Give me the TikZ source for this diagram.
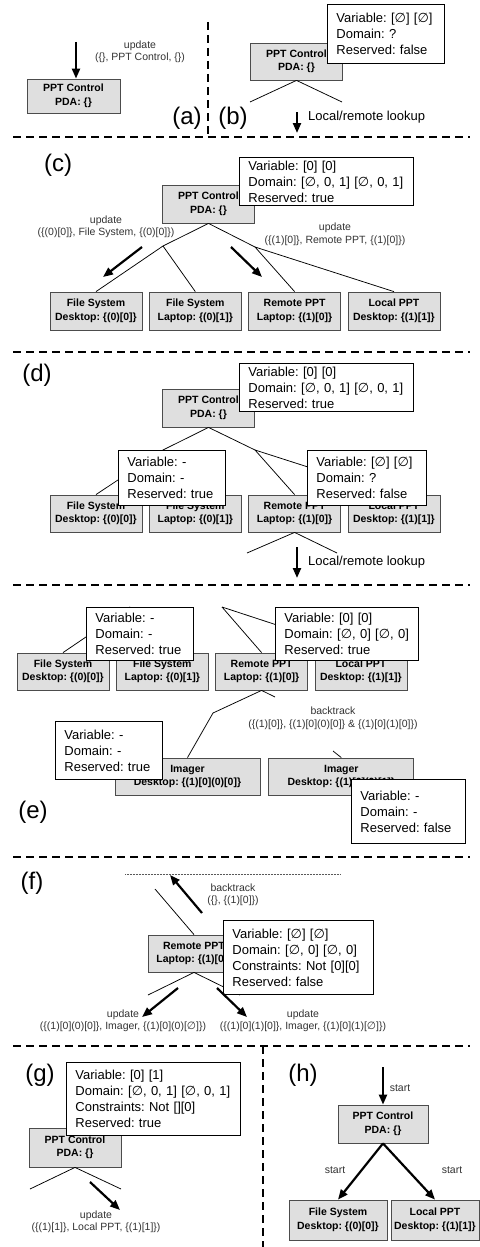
\documentclass[tikz,border=0pt]{standalone}
\usepackage{fontspec}
\setmainfont{Liberation Sans}
\newfontfamily\esfont{DejaVu Sans}
\usetikzlibrary{arrows.meta,positioning}
\frenchspacing

\newcommand{\emptyvar}{{\esfont ∅}}

\tikzstyle{rec} = [rectangle, fill = gray!25, draw = gray!60!black, line width = 0.8pt, minimum width = 92pt, minimum height = 37pt, inner sep = 0pt, text centered, align = center, font = \bfseries\fontsize{10.5}{13.5}\selectfont]
\tikzstyle{rec1} = [rec, minimum width = 145pt]
\tikzstyle{note} = [rectangle, fill = white, draw = black, line width = 0.8pt, anchor = north west, align = left, inner xsep = 9pt, inner ysep = 0pt, font = \fontsize{13}{16}\selectfont]
\tikzstyle{arrow} = [line width = 2.2pt, -{Triangle[length = 10pt, width = 8pt]}]
\tikzstyle{line} = [line width = 0.75pt, -, draw = black]
\tikzstyle{divider} = [line width = 2.6pt, dash pattern = on 8pt off 5pt]
\tikzstyle{dots} = [line width = 0.5pt, densely dotted, draw = gray!70!black]
\tikzstyle{lab} = [align = center, text = black!80, inner sep = 0pt, font = \fontsize{10.5}{12.5}\selectfont]
\tikzstyle{txt} = [inner sep = 0pt, font = \fontsize{13}{16}\selectfont]
\tikzstyle{tag} = [inner sep = 0pt, font = \fontsize{24}{28}\selectfont]

\begin{document}
\begin{tikzpicture}[x = 1pt, y = -1pt]
    \useasboundingbox (0, 0) rectangle (479, 1247);
    \draw[divider] (208, 22) -- (208, 137);
    \draw[divider] (13, 137) -- (470, 137);
    \draw[divider] (13, 352) -- (470, 352);
    \draw[divider] (13, 585) -- (470, 585);
    \draw[divider] (13, 857) -- (470, 857);
    \draw[divider] (13, 1046) -- (470, 1046);
    \draw[divider] (263, 1046) -- (263, 1247);

    \node(ctrl_a)[rec, minimum width = 93pt, minimum height = 34pt] at (73.5, 96) {PPT Control\\PDA: \{\}};
    \coordinate(in_a) at (76, 42);
    \draw[arrow] (in_a) -- (in_a |- ctrl_a.north);
    \node(upd_a)[lab] at (140, 52) {update\\(\{\}, PPT Control, \{\})};
    \node(tag_a)[tag] at (187, 118) {(a)};

    \node(ctrl_b)[rec] at (296.5, 61.5) {PPT Control\\PDA: \{\}};
    \coordinate(bl_b) at (250, 102);
    \coordinate(br_b) at (342, 102);
    \draw[line] (ctrl_b.south) -- (bl_b);
    \draw[line] (ctrl_b.south) -- (br_b);
    \node(note_b)[note, text width = 99pt, minimum height = 59pt] at (327, 4) {Variable: [\emptyvar] [\emptyvar]\\Domain: ?\\Reserved: false};
    \coordinate(look_b) at (297, 112);
    \coordinate(look_b1) at (297, 133);
    \draw[arrow] (look_b) -- (look_b1) node[txt, pos = 0.25, anchor = west, xshift = 10pt] {Local/remote lookup};
    \node(tag_b)[tag] at (233, 118) {(b)};

    \node(tag_c)[tag] at (58, 165) {(c)};
    \node(ctrl_c)[rec, minimum height = 38pt] at (208.5, 204) {PPT Control\\PDA: \{\}};
    \node(fsd_c)[rec, minimum height = 38pt] at (96, 311) {File System\\Desktop: \{(0)[0]\}};
    \node(fsl_c)[rec, minimum height = 38pt, right = 6.5pt of fsd_c] {File System\\Laptop: \{(0)[1]\}};
    \node(rem_c)[rec, minimum height = 38pt, right = 6.5pt of fsl_c] {Remote PPT\\Laptop: \{(1)[0]\}};
    \node(loc_c)[rec, minimum height = 38pt, right = 6.5pt of rem_c] {Local PPT\\Desktop: \{(1)[1]\}};
    \coordinate(jl_c) at (163, 246);
    \coordinate(jr_c) at (255, 247);
    \draw[line] (ctrl_c.south) -- (jl_c) -- (fsd_c.north);
    \draw[line] (jl_c) -- (fsl_c.north);
    \draw[line] (ctrl_c.south) -- (jr_c) -- (rem_c.north);
    \draw[line] (jr_c) -- (loc_c.north);
    \node(note_c)[note, text width = 156pt, minimum height = 48pt] at (239, 157) {Variable: [0] [0]\\Domain: [\emptyvar, 0, 1] [\emptyvar, 0, 1]\\Reserved: true};
    \coordinate(al_c) at (142, 247);
    \coordinate(al_c1) at (103, 277);
    \coordinate(ar_c) at (231, 247);
    \coordinate(ar_c1) at (262, 277);
    \draw[arrow] (al_c) -- (al_c1);
    \draw[arrow] (ar_c) -- (ar_c1);
    \node(upd_c1)[lab] at (106, 227) {update\\(\{(0)[0]\}, File System, \{(0)[0]\})};
    \node(upd_c2)[lab] at (335, 234.5) {update\\(\{(1)[0]\}, Remote PPT, \{(1)[0]\})};

    \node(tag_d)[tag] at (37, 375) {(d)};
    \node(ctrl_d)[rec, minimum height = 38pt] at (208.5, 408) {PPT Control\\PDA: \{\}};
    \node(fsd_d)[rec] at (96, 513.5) {File System\\Desktop: \{(0)[0]\}};
    \node(fsl_d)[rec, right = 6.5pt of fsd_d] {File System\\Laptop: \{(0)[1]\}};
    \node(rem_d)[rec, right = 6.5pt of fsl_d] {Remote PPT\\Laptop: \{(1)[0]\}};
    \node(loc_d)[rec, right = 6.5pt of rem_d] {Local PPT\\Desktop: \{(1)[1]\}};
    \coordinate(jl_d) at (163, 450);
    \coordinate(jr_d) at (255, 450);
    \draw[line] (ctrl_d.south) -- (jl_d) -- (fsd_d.north);
    \draw[line] (jl_d) -- (fsl_d.north);
    \draw[line] (ctrl_d.south) -- (jr_d) -- (rem_d.north);
    \draw[line] (jr_d) -- (loc_d.north);
    \node(note_d)[note, text width = 156pt, minimum height = 48pt] at (239, 363) {Variable: [0] [0]\\Domain: [\emptyvar, 0, 1] [\emptyvar, 0, 1]\\Reserved: true};
    \node(note_d1)[note, text width = 89pt, minimum height = 55pt] at (118, 450) {Variable: -\\Domain: -\\Reserved: true};
    \node(note_d2)[note, text width = 101pt, minimum height = 55pt] at (307, 450) {Variable: [\emptyvar] [\emptyvar]\\Domain: ?\\Reserved: false};
    \coordinate(bl_d) at (247, 553);
    \coordinate(br_d) at (337, 553);
    \draw[line] (rem_d.south) -- (bl_d);
    \draw[line] (rem_d.south) -- (br_d);
    \coordinate(look_d) at (297, 547);
    \coordinate(look_d1) at (297, 578);
    \draw[arrow] (look_d) -- (look_d1) node[txt, midway, anchor = west, xshift = 10pt] {Local/remote lookup};

    \node(fsd_e)[rec] at (63, 671.5) {File System\\Desktop: \{(0)[0]\}};
    \node(fsl_e)[rec, right = 6.5pt of fsd_e] {File System\\Laptop: \{(0)[1]\}};
    \node(rem_e)[rec, right = 6.5pt of fsl_e] {Remote PPT\\Laptop: \{(1)[0]\}};
    \node(loc_e)[rec, right = 6.5pt of rem_e] {Local PPT\\Desktop: \{(1)[1]\}};
    \coordinate(jl_e) at (130, 607);
    \coordinate(jr_e) at (222, 607);
    \draw[line] (jl_e) -- (fsd_e.north);
    \draw[line] (jl_e) -- (fsl_e.north);
    \draw[line] (jr_e) -- (rem_e.north);
    \draw[line] (jr_e) -- (loc_e.north);
    \node(note_e1)[note, text width = 89pt, minimum height = 53pt] at (86, 607) {Variable: -\\Domain: -\\Reserved: true};
    \node(note_e2)[note, text width = 125pt, minimum height = 53pt] at (275, 607) {Variable: [0] [0]\\Domain: [\emptyvar, 0] [\emptyvar, 0]\\Reserved: true};
    \node(img_e1)[rec1] at (187.5, 776.5) {Imager\\Desktop: \{(1)[0](0)[0]\}};
    \node(img_e2)[rec1, right = 8pt of img_e1] {Imager\\Desktop: \{(1)[0](0)[1]\}};
    \coordinate(jm_e) at (213, 713);
    \coordinate(cut_e) at (275, 697);
    \coordinate(cut_e1) at (333, 751);
    \draw[line] (rem_e.south) -- (jm_e) -- (img_e1.north);
    \draw[line] (rem_e.south) -- (cut_e);
    \draw[line] (cut_e1) -- (img_e2.north);
    \node(back_e)[lab] at (333, 718.5) {backtrack\\(\{(1)[0]\}, \{(1)[0](0)[0]\} \& \{(1)[0](1)[0]\})};
    \node(note_e3)[note, text width = 89pt, minimum height = 58pt] at (55, 721) {Variable: -\\Domain: -\\Reserved: true};
    \node(note_e4)[note, text width = 96pt, minimum height = 64pt] at (351, 779) {Variable: -\\Domain: -\\Reserved: false};
    \node(tag_e)[tag] at (33, 812) {(e)};

    \node(tag_f)[tag] at (32, 883) {(f)};
    \coordinate(dl_f) at (125, 874);
    \coordinate(dr_f) at (340, 874);
    \draw[dots] (dl_f) -- (dr_f);
    \node(rem_f)[rec] at (194, 953.5) {Remote PPT\\Laptop: \{(1)[0]\}};
    \coordinate(up_f) at (155, 889);
    \draw[line] (up_f) -- (rem_f.north);
    \coordinate(bt_f) at (202, 913);
    \coordinate(bt_f1) at (170, 875);
    \draw[arrow] (bt_f) -- (bt_f1);
    \node(back_f)[lab] at (233, 895) {backtrack\\(\{\}, \{(1)[0]\})};
    \coordinate(bl_f) at (148, 995);
    \coordinate(br_f) at (240, 995);
    \draw[line] (rem_f.south) -- (bl_f);
    \draw[line] (rem_f.south) -- (br_f);
    \node(note_f)[note, text width = 132pt, minimum height = 74pt] at (223, 920) {Variable: [\emptyvar] [\emptyvar]\\Domain: [\emptyvar, 0] [\emptyvar, 0]\\Constraints: Not [0][0]\\Reserved: false};
    \coordinate(al_f) at (178, 988);
    \coordinate(al_f1) at (142, 1017);
    \coordinate(ar_f) at (217, 988);
    \coordinate(ar_f1) at (247, 1017);
    \draw[arrow] (al_f) -- (al_f1);
    \draw[arrow] (ar_f) -- (ar_f1);
    \node(upd_f1)[lab] at (123, 1021) {update\\(\{(1)[0](0)[0]\}, Imager, \{(1)[0](0)[\emptyvar]\})};
    \node(upd_f2)[lab] at (303, 1021) {update\\(\{(1)[0](1)[0]\}, Imager, \{(1)[0](1)[\emptyvar]\})};

    \node(tag_g)[tag] at (40, 1075) {(g)};
    \node(ctrl_g)[rec, minimum height = 39pt] at (75, 1147.5) {PPT Control\\PDA: \{\}};
    \coordinate(bl_g) at (30, 1189);
    \coordinate(br_g) at (121, 1189);
    \draw[line] (ctrl_g.south) -- (bl_g);
    \draw[line] (ctrl_g.south) -- (br_g);
    \node(note_g)[note, text width = 156pt, minimum height = 73pt] at (66, 1062) {Variable: [0] [1]\\Domain: [\emptyvar, 0, 1] [\emptyvar, 0, 1]\\Constraints: Not [][0]\\Reserved: true};
    \coordinate(a_g) at (90, 1182);
    \coordinate(a_g1) at (120, 1210);
    \draw[arrow] (a_g) -- (a_g1);
    \node(upd_g)[lab] at (96, 1222) {update\\(\{(1)[1]\}, Local PPT, \{(1)[1]\})};

    \node(tag_h)[tag] at (303, 1075) {(h)};
    \node(ctrl_h)[rec, minimum width = 90pt, minimum height = 38pt] at (383, 1124) {PPT Control\\PDA: \{\}};
    \node(fsd_h)[rec, minimum width = 98pt, minimum height = 40pt] at (338, 1220) {File System\\Desktop: \{(0)[0]\}};
    \node(loc_h)[rec, minimum width = 88pt, minimum height = 40pt] at (435, 1220) {Local PPT\\Desktop: \{(1)[1]\}};
    \coordinate(in_h) at (383, 1067);
    \draw[arrow] (in_h) -- (ctrl_h.north);
    \draw[arrow] (ctrl_h.south) -- (fsd_h.north);
    \draw[arrow] (ctrl_h.south) -- (loc_h.north);
    \node(st_h)[lab] at (400, 1088) {start};
    \node(st_h1)[lab] at (335, 1170) {start};
    \node(st_h2)[lab] at (452, 1170) {start};
\end{tikzpicture}
\end{document}
